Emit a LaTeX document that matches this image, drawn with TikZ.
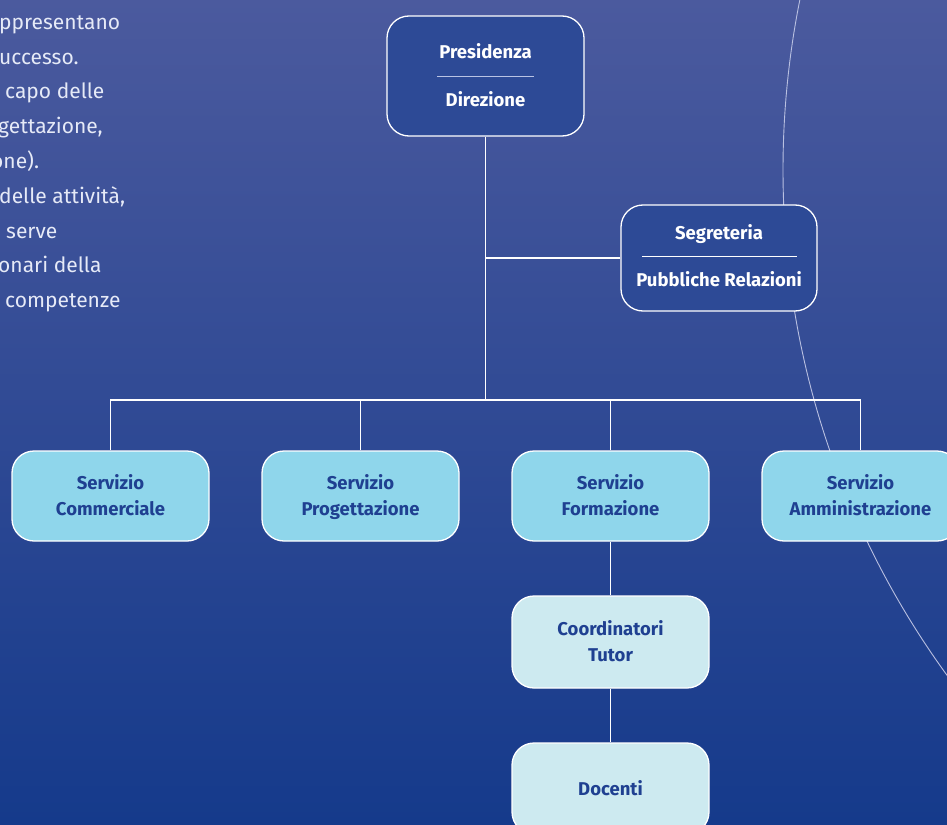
\documentclass[tikz,border=0pt]{standalone}
\usepackage{fontspec}
\setmainfont{Fira Sans}
\usetikzlibrary{calc}
\definecolor{bgtop}{RGB}{75,90,158}
\definecolor{bgbot}{RGB}{21,58,139}
\definecolor{darkbox}{RGB}{45,74,150}
\definecolor{cyanbox}{RGB}{143,214,235}
\definecolor{palebox}{RGB}{205,234,240}
\definecolor{boxtext}{RGB}{31,64,145}
\definecolor{paratext}{RGB}{230,234,247}
\definecolor{arccol}{RGB}{185,192,225}
\definecolor{seplight}{RGB}{185,195,228}
\newcommand{\lstrut}{\rule[-4pt]{0pt}{21pt}}
\begin{document}
\begin{tikzpicture}[x=1pt,y=-1pt,
  conn/.style={draw=white,line width=1.2pt},
  boxbase/.style={draw=white,line width=1.3pt,rounded corners=22pt,minimum width=197pt,inner sep=0pt},
  topbox/.style={boxbase,fill=darkbox},
  servbox/.style={boxbase,fill=cyanbox,minimum height=90pt,text=boxtext,font=\bfseries\fontsize{18.5}{26}\selectfont,align=center},
  subbox/.style={boxbase,fill=palebox,text=boxtext,font=\bfseries\fontsize{18.5}{26}\selectfont,align=center},
  toptext/.style={text=white,font=\bfseries\fontsize{18.5}{22}\selectfont,inner sep=0pt,anchor=base},
  para/.style={text=paratext,font=\fontsize{21}{24}\selectfont,anchor=base west,inner sep=0pt}]
\useasboundingbox (0,0) rectangle (947,824);
\shade[top color=bgtop,bottom color=bgbot] (0,0) rectangle (947,824);
\begin{scope}
\clip (0,0) rectangle (947,824);
\draw[arccol,line width=0.9pt] (1643,170) circle (860);
\end{scope}
% paragraph (cut at left edge)
\begin{scope}
\clip (0,0) rectangle (947,824);
\node[para] (p1) at (-1,30) {ppresentano};
\node[para] (p2) at (-1,64.5) {uccesso.};
\node[para] (p3) at (5,99) {capo delle};
\node[para] (p4) at (-2,134) {gettazione,};
\node[para] (p5) at (-9,168.5) {one).};
\node[para] (p6) at (-1,203) {delle attività,};
\node[para] (p7) at (6,238) {serve};
\node[para] (p8) at (-2,272.5) {onari della};
\node[para] (p9) at (5,307) {competenze};
\end{scope}
% boxes
\node[topbox,minimum height=120pt] (pres) at (485.5,76) {};
\node[topbox,minimum width=196pt,minimum height=106pt] (seg) at (719,258) {};
\node[servbox] (com) at (110.5,496) {Servizio\lstrut\\Commerciale\lstrut};
\node[servbox] (prog) at (360.5,496) {Servizio\lstrut\\Progettazione\lstrut};
\node[servbox] (form) at (610.5,496) {Servizio\lstrut\\Formazione\lstrut};
\node[servbox] (amm) at (860.5,496) {Servizio\lstrut\\Amministrazione\lstrut};
\node[subbox,minimum height=92pt] (coord) at (610.5,642) {Coordinatori\lstrut\\Tutor\lstrut};
\node[subbox,minimum height=91pt] (doc) at (610.5,788.5) {Docenti\lstrut};
% connectors
\coordinate (hub) at (485,400);
\draw[conn] (pres.south) -- (pres.south |- hub);
\draw[conn] (seg.west) -- (pres.south |- seg.west);
\draw[conn] (com.north) -- (com.north |- hub) -- (amm.north |- hub) -- (amm.north);
\draw[conn] (prog.north) -- (prog.north |- hub);
\draw[conn] (form.north) -- (form.north |- hub);
\draw[conn] (form.south) -- (coord.north);
\draw[conn] (coord.south) -- (doc.north);
% top box texts
\node[toptext] (presT) at (485.5,58.5) {Presidenza};
\node[toptext] (dirT) at (485.5,106.5) {Direzione};
\draw[seplight,line width=1pt] (437,77) -- (534,77);
\node[toptext] (segT) at (719,239.5) {Segreteria};
\node[toptext] (pubT) at (719,286.5) {Pubbliche Relazioni};
\draw[white,line width=1pt] (642,256) -- (797,256);
\end{tikzpicture}
\end{document}
